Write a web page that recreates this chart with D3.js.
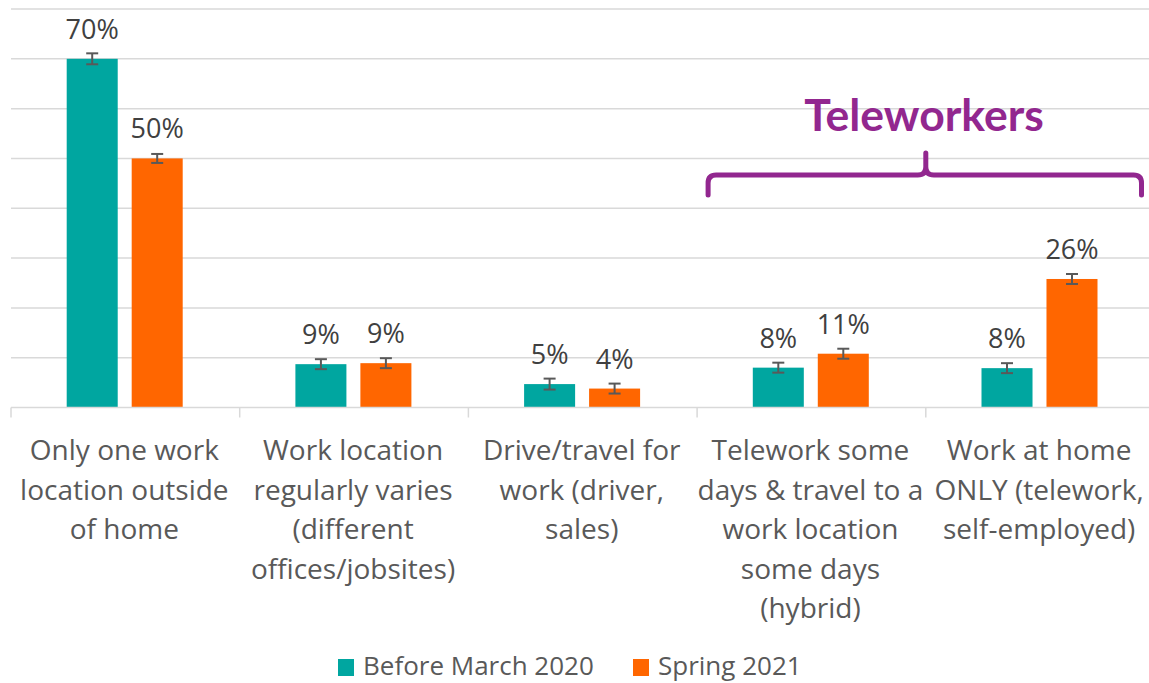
<!DOCTYPE html>
<html>
<head>
<meta charset="utf-8">
<script src="https://cdn.jsdelivr.net/npm/d3@7"></script>
<style>
  body { margin: 0; background: #fff; }
  svg { display: block; font-family: "Open Sans", "Noto Sans", sans-serif; }
</style>
</head>
<body>
<svg id="chart" width="1149" height="683"></svg>
<script>
// Data
const categories = [
  ["Only one work", "location outside", "of home"],
  ["Work location", "regularly varies", "(different", "offices/jobsites)"],
  ["Drive/travel for", "work (driver,", "sales)"],
  ["Telework some", "days & travel to a", "work location", "some days", "(hybrid)"],
  ["Work at home", "ONLY (telework,", "self-employed)"]
];
const seriesNames = ["Before March 2020", "Spring 2021"];
const beforeValues = [70.0, 8.7, 4.7, 8.0, 7.9];
const springValues = [50.0, 8.9, 3.8, 10.8, 25.8];
const beforeErrors = [1.1, 1.0, 1.1, 1.0, 1.0];
const springErrors = [0.9, 1.0, 1.0, 1.0, 1.0];
const yTicks = [0, 10, 20, 30, 40, 50, 60, 70, 80];
const colors = ["#00A6A0", "#FF6600"];
const PURPLE = "#92278F";
const GRID = "#d9d9d9";
const TEXT = "#595959";

const svg = d3.select("#chart");

// Scales
const catIdx = d3.range(categories.length);
const x0 = d3.scaleBand().domain(catIdx).range([11, 1154.5]).padding(0);
const x1 = d3.scaleBand().domain([0, 1]).range([55.7, 171.7]).paddingInner(0.215);
const y = d3.scaleLinear().domain([0, 80]).range([407.5, 9]);

// Gridlines
svg.append("g")
  .selectAll("line")
  .data(yTicks.slice(1))
  .enter()
  .append("line")
    .attr("x1", 11)
    .attr("x2", 1149)
    .attr("y1", d => y(d))
    .attr("y2", d => y(d))
    .attr("stroke", GRID)
    .attr("stroke-width", 1.5);

// Bars
const rows = catIdx.map(i => ({
  i,
  vals: [
    { s: 0, v: beforeValues[i], e: beforeErrors[i] },
    { s: 1, v: springValues[i], e: springErrors[i] }
  ]
}));

const groups = svg.append("g")
  .selectAll("g")
  .data(rows)
  .enter()
  .append("g")
    .attr("transform", d => `translate(${x0(d.i)},0)`);

groups.selectAll("rect")
  .data(d => d.vals)
  .enter()
  .append("rect")
    .attr("x", d => x1(d.s))
    .attr("width", x1.bandwidth())
    .attr("y", d => y(d.v))
    .attr("height", d => y(0) - y(d.v))
    .attr("fill", d => colors[d.s]);

// Error bars
const errG = groups.selectAll(".err")
  .data(d => d.vals)
  .enter()
  .append("g")
    .attr("class", "err")
    .attr("stroke", "#595959")
    .attr("stroke-width", 2);

const cx = d => x1(d.s) + x1.bandwidth() / 2;
errG.append("line")
  .attr("x1", cx).attr("x2", cx)
  .attr("y1", d => y(d.v + d.e)).attr("y2", d => y(d.v - d.e));
errG.append("line")
  .attr("x1", d => cx(d) - 6).attr("x2", d => cx(d) + 6)
  .attr("y1", d => y(d.v + d.e)).attr("y2", d => y(d.v + d.e));
errG.append("line")
  .attr("x1", d => cx(d) - 6).attr("x2", d => cx(d) + 6)
  .attr("y1", d => y(d.v - d.e)).attr("y2", d => y(d.v - d.e));

// Value labels
groups.selectAll(".val")
  .data(d => d.vals)
  .enter()
  .append("text")
    .attr("class", "val")
    .attr("x", cx)
    .attr("y", d => y(d.v) - 20)
    .attr("text-anchor", "middle")
    .attr("font-size", 27)
    .attr("fill", "#404040")
    .text(d => `${Math.round(d.v)}%`);

// Baseline + category ticks
svg.append("line")
  .attr("x1", 11).attr("x2", 1149)
  .attr("y1", y(0)).attr("y2", y(0))
  .attr("stroke", GRID).attr("stroke-width", 1.5);

svg.append("g")
  .selectAll("line")
  .data(catIdx)
  .enter()
  .append("line")
    .attr("x1", d => x0(d)).attr("x2", d => x0(d))
    .attr("y1", y(0)).attr("y2", y(0) + 10)
    .attr("stroke", GRID).attr("stroke-width", 1.5);

// Category labels
const catLabels = svg.append("g")
  .selectAll("text")
  .data(catIdx)
  .enter()
  .append("text")
    .attr("x", d => x0(d) + x0.bandwidth() / 2 - 1)
    .attr("y", 460)
    .attr("text-anchor", "middle")
    .attr("font-size", 28)
    .attr("fill", TEXT);

catLabels.selectAll("tspan")
  .data(d => categories[d])
  .enter()
  .append("tspan")
    .attr("x", function() { return d3.select(this.parentNode).attr("x"); })
    .attr("dy", (d, i) => i === 0 ? 0 : 39.5)
    .text(d => d);

// Teleworkers bracket
const bx0 = x0(3) + 11;
const bx1 = x0(4) + x0.bandwidth() - 13;
const bmid = x0(4);
const by = y(46.7);
const r = 8;
const bracket = d3.path();
bracket.moveTo(bx0, by + 20);
bracket.lineTo(bx0, by + r);
bracket.quadraticCurveTo(bx0, by, bx0 + r, by);
bracket.lineTo(bmid - r, by);
bracket.quadraticCurveTo(bmid, by, bmid, by - r);
bracket.lineTo(bmid, by - 22);
bracket.moveTo(bmid, by - r);
bracket.quadraticCurveTo(bmid, by, bmid + r, by);
bracket.lineTo(bx1 - r, by);
bracket.quadraticCurveTo(bx1, by, bx1, by + r);
bracket.lineTo(bx1, by + 20);

svg.append("path")
  .attr("d", bracket.toString())
  .attr("fill", "none")
  .attr("stroke", PURPLE)
  .attr("stroke-width", 5)
  .attr("stroke-linecap", "round")
  .attr("stroke-linejoin", "round");

svg.append("text")
  .attr("x", 924)
  .attr("y", 130.5)
  .attr("text-anchor", "middle")
  .attr("font-family", "Lato, 'Open Sans', sans-serif")
  .attr("font-weight", "bold")
  .attr("font-size", 44.5)
  .attr("fill", PURPLE)
  .text("Teleworkers");

// Legend
const legendX = [338, 633];
const legend = svg.append("g")
  .selectAll("g")
  .data(seriesNames)
  .enter()
  .append("g")
    .attr("transform", (d, i) => `translate(${legendX[i]},659)`);

legend.append("rect")
  .attr("width", 16).attr("height", 17)
  .attr("fill", (d, i) => colors[i]);

legend.append("text")
  .attr("x", 25)
  .attr("y", 16)
  .attr("font-size", 26)
  .attr("fill", TEXT)
  .text(d => d);
</script>
</body>
</html>
